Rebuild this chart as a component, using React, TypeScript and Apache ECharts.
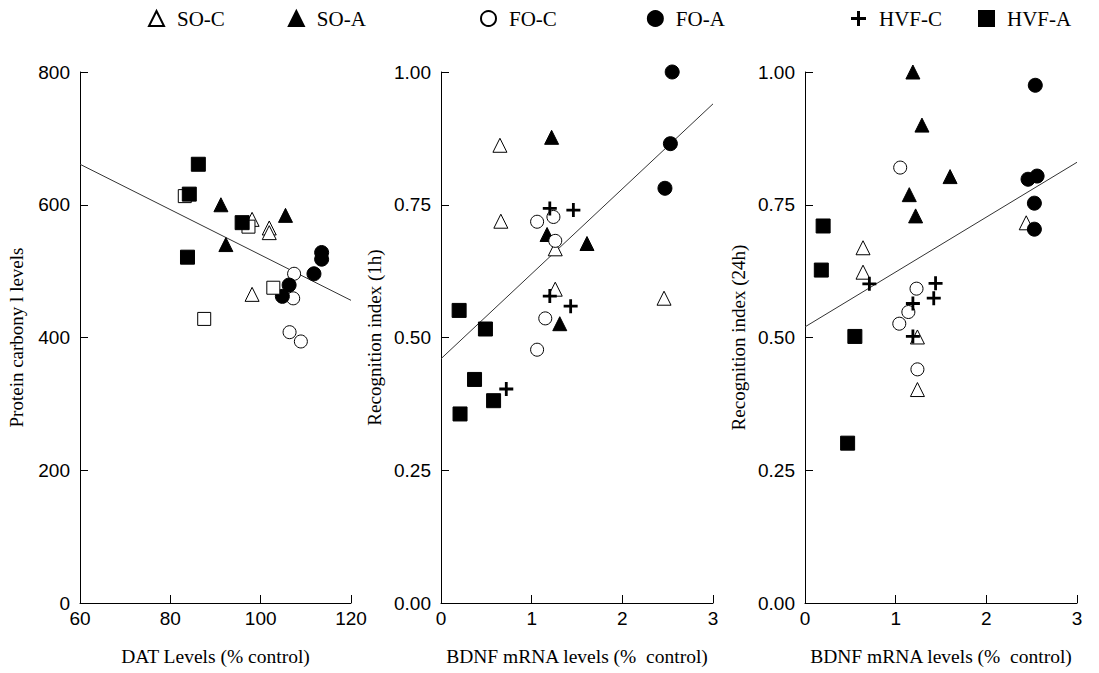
import React, { useEffect, useRef } from "react";
import * as echarts from "echarts";

// ---- Panel 1: DAT levels vs protein carbonyl ----
const p1_SOC = [[98.1, 578], [101.9, 565], [101.9, 558], [98.1, 465]];
const p1_SOA = [[91.2, 600], [105.5, 584], [92.3, 540]];
const p1_FOC = [[107.4, 496], [107.2, 459], [106.4, 408], [108.9, 394]];
const p1_FOA = [[113.5, 528], [113.5, 518], [111.8, 496], [106.3, 479], [104.8, 462]];
const p1_HVFC = [[83.2, 613], [97.3, 567], [102.8, 475], [87.5, 428]];
const p1_HVFA = [[86.2, 661], [84.2, 616], [95.9, 573], [83.8, 521]];
const p1_fit = [[60, 661], [120, 456]];

// ---- Panel 2: BDNF vs recognition index (1h) ----
const p2_SOC = [[0.65, 0.862], [0.66, 0.719], [1.26, 0.667], [1.26, 0.591], [2.46, 0.574]];
const p2_SOA = [[1.22, 0.877], [1.17, 0.694], [1.61, 0.677], [1.31, 0.526]];
const p2_FOC = [[1.24, 0.727], [1.06, 0.718], [1.26, 0.682], [1.15, 0.536], [1.06, 0.477]];
const p2_FOA = [[2.55, 1.0], [2.53, 0.865], [2.47, 0.781]];
const p2_HVFC = [[0.72, 0.403], [1.2, 0.743], [1.46, 0.74], [1.2, 0.578], [1.43, 0.559]];
const p2_HVFA = [[0.2, 0.551], [0.49, 0.516], [0.37, 0.421], [0.58, 0.381], [0.21, 0.356]];
const p2_fit = [[0, 0.46], [3, 0.94]];

// ---- Panel 3: BDNF vs recognition index (24h) ----
const p3_SOC = [[2.44, 0.716], [0.64, 0.669], [0.64, 0.623], [1.24, 0.501], [1.24, 0.402]];
const p3_SOA = [[1.19, 1.0], [1.29, 0.9], [1.6, 0.803], [1.15, 0.769], [1.22, 0.729]];
const p3_FOC = [[1.05, 0.82], [1.23, 0.592], [1.14, 0.548], [1.04, 0.526], [1.24, 0.44]];
const p3_FOA = [[2.54, 0.975], [2.46, 0.798], [2.56, 0.804], [2.53, 0.753], [2.53, 0.704]];
const p3_HVFC = [[0.71, 0.601], [1.44, 0.602], [1.42, 0.574], [1.19, 0.564], [1.19, 0.502]];
const p3_HVFA = [[0.2, 0.71], [0.18, 0.627], [0.55, 0.502], [0.47, 0.301]];
const p3_fit = [[0, 0.52], [3, 0.83]];

const xNames = ["DAT Levels (% control)", "BDNF mRNA levels (%  control)", "BDNF mRNA levels (%  control)"];
const yNames = ["Protein carbony l levels", "Recognition index (1h)", "Recognition index (24h)"];

const PLUS = "path://M4,0H6V4H10V6H6V10H4V6H0V4H4Z";
const SERIF = "'Liberation Serif', 'Times New Roman', serif";
const SANS = "'Liberation Sans', Arial, sans-serif";

const styles: Record<string, any> = {
  "SO-C": { symbol: "triangle", symbolSize: 14, itemStyle: { color: "#fff", borderColor: "#000", borderWidth: 1, opacity: 1 } },
  "SO-A": { symbol: "triangle", symbolSize: 14, itemStyle: { color: "#000", borderColor: "#000", borderWidth: 1, opacity: 1 } },
  "FO-C": { symbol: "circle", symbolSize: 13, itemStyle: { color: "#fff", borderColor: "#000", borderWidth: 1, opacity: 1 } },
  "FO-A": { symbol: "circle", symbolSize: 14, itemStyle: { color: "#000", borderColor: "#000", borderWidth: 1, opacity: 1 } },
  "HVF-C": { symbol: PLUS, symbolSize: 14, itemStyle: { color: "#000", opacity: 1 } },
  "HVF-A": { symbol: "rect", symbolSize: 14, itemStyle: { color: "#000", borderColor: "#000", borderWidth: 1, opacity: 1 } },
  "HVF-C open": { symbol: "rect", symbolSize: 13, itemStyle: { color: "#fff", borderColor: "#000", borderWidth: 1, opacity: 1 } },
};

export default function App() {
  const ref = useRef<HTMLDivElement>(null);
  useEffect(() => {
    document.body.style.margin = "0";
    const chart = echarts.init(ref.current!, null, { renderer: "svg" });
    const grids = [
      { left: 80, top: 72, width: 271, height: 531 },
      { left: 441, top: 72, width: 272, height: 531 },
      { left: 805, top: 72, width: 272, height: 531 },
    ];
    const axisCommon = {
      axisLine: { show: true, lineStyle: { color: "#000", width: 1 } },
      axisTick: { show: true, inside: true, length: 8, lineStyle: { color: "#000" } },
      splitLine: { show: false },
      nameLocation: "middle",
      nameTextStyle: { fontFamily: SERIF, fontSize: 19, color: "#000" },
    };
    const xAxes = [0, 1, 2].map((i) => ({
      ...axisCommon,
      type: "value",
      gridIndex: i,
      min: i === 0 ? 60 : 0,
      max: i === 0 ? 120 : 3,
      interval: i === 0 ? 20 : 1,
      name: xNames[i],
      nameGap: 43,
      nameTextStyle: { fontFamily: SERIF, fontSize: 19.5, color: "#000" },
      axisLabel: { color: "#000", fontFamily: SANS, fontSize: 19, margin: 6, showMinLabel: true, showMaxLabel: true },
    }));
    const yAxes = [0, 1, 2].map((i) => ({
      ...axisCommon,
      type: "value",
      gridIndex: i,
      min: 0,
      max: i === 0 ? 800 : 1,
      interval: i === 0 ? 200 : 0.25,
      name: yNames[i],
      nameGap: i === 0 ? 54 : 57,
      axisLabel: {
        color: "#000",
        fontFamily: SANS,
        fontSize: 19,
        margin: 10,
        formatter: (v: number) => (i === 0 ? String(v) : v.toFixed(2)),
      },
    }));
    const panels = [
      { SOC: p1_SOC, SOA: p1_SOA, FOC: p1_FOC, FOA: p1_FOA, HVFC: p1_HVFC, HVFA: p1_HVFA, fit: p1_fit },
      { SOC: p2_SOC, SOA: p2_SOA, FOC: p2_FOC, FOA: p2_FOA, HVFC: p2_HVFC, HVFA: p2_HVFA, fit: p2_fit },
      { SOC: p3_SOC, SOA: p3_SOA, FOC: p3_FOC, FOA: p3_FOA, HVFC: p3_HVFC, HVFA: p3_HVFA, fit: p3_fit },
    ];
    const series: any[] = [];
    panels.forEach((p, i) => {
      series.push({
        type: "line", name: "fit" + i, xAxisIndex: i, yAxisIndex: i, data: p.fit,
        showSymbol: false, symbol: "none", lineStyle: { color: "#333", width: 1 }, silent: true, z: 1,
      });
      const groups: [string, number[][]][] = [
        ["SO-C", p.SOC], ["SO-A", p.SOA], ["FO-C", p.FOC], ["FO-A", p.FOA],
        [i === 0 ? "HVF-C open" : "HVF-C", p.HVFC], ["HVF-A", p.HVFA],
      ];
      groups.forEach(([name, data]) => {
        series.push({ type: "scatter", name, xAxisIndex: i, yAxisIndex: i, data, z: 3, ...styles[name] });
      });
    });
    const legendBase = {
      top: 8,
      padding: 0,
      itemWidth: 15,
      itemHeight: 15,
      textStyle: { fontFamily: SERIF, fontSize: 21, color: "#000", padding: [0, 0, 0, 8] },
      selectedMode: false,
    };
    chart.setOption({
      animation: false,
      backgroundColor: "#fff",
      grid: grids,
      xAxis: xAxes,
      yAxis: yAxes,
      legend: [
        { ...legendBase, left: 148, itemGap: 63, data: ["SO-C", "SO-A"] },
        { ...legendBase, left: 480, itemGap: 90, data: ["FO-C", "FO-A"] },
        { ...legendBase, left: 851, itemGap: 36, data: ["HVF-C", "HVF-A"] },
      ],
      series,
    });
    return () => chart.dispose();
  }, []);
  return <div ref={ref} style={{ width: 1099, height: 673 }} />;
}
